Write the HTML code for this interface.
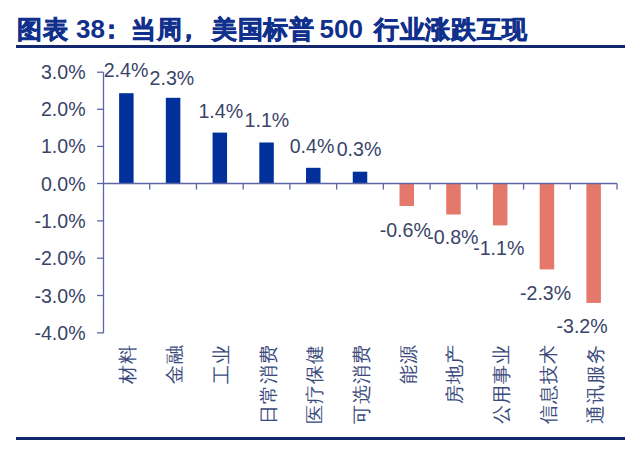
<!DOCTYPE html>
<html><head><meta charset="utf-8">
<style>
html,body{margin:0;padding:0;background:#fff;}
body{width:638px;height:451px;overflow:hidden;position:relative;font-family:"Liberation Sans",sans-serif;}
.t{position:absolute;top:9px;font-size:26px;font-weight:bold;color:#10308c;white-space:nowrap;line-height:40px;}
.c{-webkit-text-stroke:0.7px #10308c;font-size:25.3px;top:8.5px;letter-spacing:0.6px;}
#tline{position:absolute;left:16px;top:45px;width:609px;height:3px;background:#12276e;}
#bline{position:absolute;left:16px;top:437px;width:609px;height:3px;background:#12276e;}
svg{position:absolute;left:0;top:0;}
text{font-family:"Liberation Sans",sans-serif;}
</style></head><body>
<div class="t c" style="left:17.3px">图表</div>
<div class="t" style="left:76.0px">38</div>
<div class="t c" style="left:99.0px">：</div>
<div class="t c" style="left:131.4px">当周</div>
<div class="t c" style="left:176.0px">，</div>
<div class="t c" style="left:212.2px">美国标普</div>
<div class="t" style="left:319.6px">500</div>
<div class="t c" style="left:374.3px">行业涨跌互现</div>
<div id="tline"></div>
<svg width="638" height="451" viewBox="0 0 638 451">
<g font-size="19.6" fill="#3a4468" text-anchor="end">
<text x="85.6" y="79.22">3.0%</text>
<text x="85.6" y="116.32">2.0%</text>
<text x="85.6" y="153.42">1.0%</text>
<text x="85.6" y="190.52">0.0%</text>
<text x="85.6" y="227.92">-1.0%</text>
<text x="85.6" y="265.22">-2.0%</text>
<text x="85.6" y="302.52">-3.0%</text>
<text x="85.6" y="339.92">-4.0%</text>
</g>
<rect x="119.11" y="93.20" width="14.5" height="90.30" fill="#02309a"/>
<rect x="165.84" y="97.80" width="14.5" height="85.70" fill="#02309a"/>
<rect x="212.57" y="132.60" width="14.5" height="50.90" fill="#02309a"/>
<rect x="259.30" y="142.50" width="14.5" height="41.00" fill="#02309a"/>
<rect x="306.03" y="167.80" width="14.5" height="15.70" fill="#02309a"/>
<rect x="352.76" y="171.70" width="14.5" height="11.80" fill="#02309a"/>
<rect x="399.50" y="183.50" width="14.5" height="22.50" fill="#e4786a"/>
<rect x="446.22" y="183.50" width="14.5" height="31.00" fill="#e4786a"/>
<rect x="492.95" y="183.50" width="14.5" height="41.90" fill="#e4786a"/>
<rect x="539.68" y="183.50" width="14.5" height="85.90" fill="#e4786a"/>
<rect x="586.41" y="183.50" width="14.5" height="119.40" fill="#e4786a"/>
<g stroke="#5d66a6" stroke-width="1.3" fill="none">
<line x1="103.5" y1="72.2" x2="103.5" y2="332.9"/>
<line x1="97" y1="72.20" x2="103.5" y2="72.20"/>
<line x1="97" y1="109.30" x2="103.5" y2="109.30"/>
<line x1="97" y1="146.40" x2="103.5" y2="146.40"/>
<line x1="97" y1="183.50" x2="103.5" y2="183.50"/>
<line x1="97" y1="220.90" x2="103.5" y2="220.90"/>
<line x1="97" y1="258.20" x2="103.5" y2="258.20"/>
<line x1="97" y1="295.50" x2="103.5" y2="295.50"/>
<line x1="97" y1="332.90" x2="103.5" y2="332.90"/>
<line x1="103.0" y1="183.5" x2="617.03" y2="183.5"/>
<line x1="149.73" y1="183.5" x2="149.73" y2="189.5"/>
<line x1="196.46" y1="183.5" x2="196.46" y2="189.5"/>
<line x1="243.19" y1="183.5" x2="243.19" y2="189.5"/>
<line x1="289.92" y1="183.5" x2="289.92" y2="189.5"/>
<line x1="336.65" y1="183.5" x2="336.65" y2="189.5"/>
<line x1="383.38" y1="183.5" x2="383.38" y2="189.5"/>
<line x1="430.11" y1="183.5" x2="430.11" y2="189.5"/>
<line x1="476.84" y1="183.5" x2="476.84" y2="189.5"/>
<line x1="523.57" y1="183.5" x2="523.57" y2="189.5"/>
<line x1="570.30" y1="183.5" x2="570.30" y2="189.5"/>
<line x1="617.03" y1="183.5" x2="617.03" y2="189.5"/>
</g>
<g font-size="19.6" fill="#3a4468">
<text x="103.70" y="77.43">2.4%</text>
<text x="149.60" y="85.03">2.3%</text>
<text x="198.40" y="117.83">1.4%</text>
<text x="244.60" y="127.23">1.1%</text>
<text x="289.70" y="153.13">0.4%</text>
<text x="336.70" y="155.53">0.3%</text>
<text x="379.70" y="236.83">-0.6%</text>
<text x="427.30" y="243.63">-0.8%</text>
<text x="473.20" y="255.43">-1.1%</text>
<text x="520.00" y="299.53">-2.3%</text>
<text x="556.50" y="332.93">-3.2%</text>
</g>
<g font-size="19" fill="#3b4a7c" text-anchor="end" letter-spacing="1.1">
<text transform="translate(127.86,343.9) rotate(-90)" x="0" y="0" dominant-baseline="central">材料</text>
<text transform="translate(174.59,343.9) rotate(-90)" x="0" y="0" dominant-baseline="central">金融</text>
<text transform="translate(221.32,343.9) rotate(-90)" x="0" y="0" dominant-baseline="central">工业</text>
<text transform="translate(268.05,343.9) rotate(-90)" x="0" y="0" dominant-baseline="central">日常消费</text>
<text transform="translate(314.78,343.9) rotate(-90)" x="0" y="0" dominant-baseline="central">医疗保健</text>
<text transform="translate(361.51,343.9) rotate(-90)" x="0" y="0" dominant-baseline="central">可选消费</text>
<text transform="translate(408.25,343.9) rotate(-90)" x="0" y="0" dominant-baseline="central">能源</text>
<text transform="translate(454.97,343.9) rotate(-90)" x="0" y="0" dominant-baseline="central">房地产</text>
<text transform="translate(501.70,343.9) rotate(-90)" x="0" y="0" dominant-baseline="central">公用事业</text>
<text transform="translate(548.43,343.9) rotate(-90)" x="0" y="0" dominant-baseline="central">信息技术</text>
<text transform="translate(595.16,343.9) rotate(-90)" x="0" y="0" dominant-baseline="central">通讯服务</text>
</g>
</svg>
<div id="bline"></div>
</body></html>
